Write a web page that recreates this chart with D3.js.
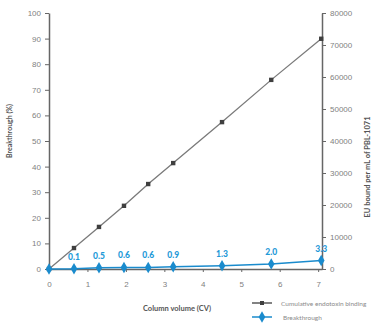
<!DOCTYPE html>
<html><head><meta charset="utf-8">
<script src="https://cdn.jsdelivr.net/npm/d3@7"></script>
<style>body{margin:0;background:#fff}svg{display:block;font-family:Lato,"Open Sans",sans-serif}</style>
</head><body><svg id="c" width="373" height="324"></svg>
<script>
const columnVolume = [0, 0.65, 1.3, 1.95, 2.58, 3.23, 4.5, 5.78, 7.08];
const cumulativeBinding = [0, 6550, 13150, 19750, 26550, 33100, 45900, 59100, 71950];
const breakthrough = [0, 0.1, 0.5, 0.6, 0.6, 0.9, 1.3, 2.0, 3.3];
const breakthroughLabels = ["", "0.1", "0.5", "0.6", "0.6", "0.9", "1.3", "2.0", "3.3"];
const xTicks = [0,1,2,3,4,5,6,7];
const leftTicks = [0,10,20,30,40,50,60,70,80,90,100];
const rightTicks = [0,10000,20000,30000,40000,50000,60000,70000,80000];
const seriesNames = ["Cumulative  endotoxin binding", "Breakthrough"];

const svg = d3.select("#c");
const x = d3.scaleLinear().domain([0, 7.1]).range([49, 322]);
const yL = d3.scaleLinear().domain([0, 100]).range([269, 13]);
const yR = d3.scaleLinear().domain([0, 80000]).range([269, 13]);

const axisCol = "#666", tickText = "#7f7f7f";
function styleAxis(g){
  g.select(".domain").attr("stroke", axisCol).attr("stroke-width", 1.5);
  g.selectAll(".tick line").attr("stroke", axisCol).attr("stroke-width", 1);
  g.selectAll(".tick text").attr("fill", tickText).style("font-size", "8px");
}
svg.append("g").attr("transform","translate(0,269)")
  .call(d3.axisBottom(x).tickValues(xTicks).tickSize(3).tickSizeOuter(0).tickPadding(9))
  .call(styleAxis);
svg.append("g").attr("transform","translate(49,0)")
  .call(d3.axisLeft(yL).tickValues(leftTicks).tickSize(4).tickSizeOuter(0).tickPadding(4))
  .call(styleAxis);
svg.append("g").attr("transform","translate(322,0)")
  .call(d3.axisRight(yR).tickValues(rightTicks).tickFormat(d3.format("d")).tickSize(4).tickSizeOuter(0).tickPadding(4))
  .call(styleAxis);

// gray cumulative line
const grayData = columnVolume.map((v,i)=>[v, cumulativeBinding[i]]);
svg.append("path").datum(grayData)
  .attr("fill","none").attr("stroke","#7a7a7a").attr("stroke-width",1.3)
  .attr("d", d3.line().x(d=>x(d[0])).y(d=>yR(d[1])));
svg.selectAll(".sq").data(grayData).join("rect")
  .attr("x", d=>x(d[0])-2.2).attr("y", d=>yR(d[1])-2.2)
  .attr("width",4.4).attr("height",4.4).attr("fill","#3f3f3f");

// blue breakthrough line
const blue = "#1a8bcd";
const blueData = columnVolume.map((v,i)=>[v, breakthrough[i], breakthroughLabels[i]]);
svg.append("path").datum(blueData)
  .attr("fill","none").attr("stroke",blue).attr("stroke-width",1.5)
  .attr("d", d3.line().x(d=>x(d[0])).y(d=>yL(d[1])));
const diamond = d3.symbol().type(d3.symbolDiamond).size(38);
svg.selectAll(".dm").data(blueData).join("path")
  .attr("transform", d=>`translate(${x(d[0])},${yL(d[1])})`)
  .attr("d", diamond).attr("fill", blue);
svg.selectAll(".lb").data(blueData).join("text")
  .attr("x", d=>x(d[0])).attr("y", d=>yL(d[1])-9)
  .attr("text-anchor","middle").attr("fill","#1f9ad8")
  .style("font-size","8.5px").style("font-weight","900")
  .text(d=>d[2]);

// axis titles
svg.append("text").attr("transform","translate(12,131) rotate(-90)")
  .attr("text-anchor","middle").attr("fill","#555").style("font-size","7px").style("font-weight","bold")
  .text("Breakthrough (%)");
svg.append("text").attr("transform","translate(370,167) rotate(-90)")
  .attr("text-anchor","middle").attr("fill","#555").style("font-size","7.5px").style("font-weight","bold")
  .text("EU bound per mL of PBL-1071");
svg.append("text").attr("x",177).attr("y",311)
  .attr("text-anchor","middle").attr("fill","#555").style("font-size","7.5px").style("font-weight","bold")
  .text("Column volume (CV)");

// legend
const lg = svg.append("g");
lg.append("line").attr("x1",252).attr("x2",272).attr("y1",303).attr("y2",303).attr("stroke","#3f3f3f").attr("stroke-width",1.3);
lg.append("rect").attr("x",260).attr("y",301).attr("width",4).attr("height",4).attr("fill","#3f3f3f");
lg.append("text").attr("x",281).attr("y",305.5).attr("fill","#8a8a8a").style("font-size","6.5px").text(seriesNames[0]);
lg.append("line").attr("x1",252).attr("x2",272).attr("y1",317).attr("y2",317).attr("stroke",blue).attr("stroke-width",1.5);
lg.append("path").attr("transform","translate(262,317)").attr("d",diamond).attr("fill",blue);
lg.append("text").attr("x",283).attr("y",319.5).attr("fill","#8a8a8a").style("font-size","6.5px").text(seriesNames[1]);
</script></body></html>
